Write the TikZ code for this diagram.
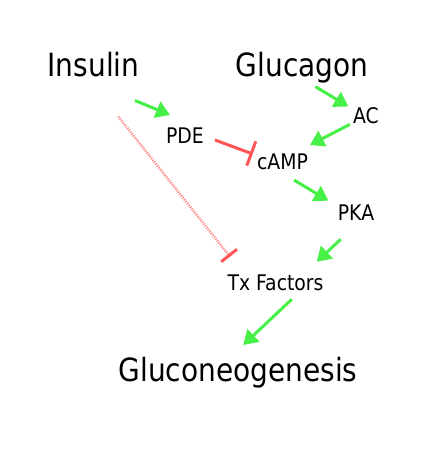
\documentclass[tikz,border=0pt]{standalone}
\usepackage{fontspec}
\usetikzlibrary{arrows.meta}
\newfontfamily\dv[FakeStretch=0.875]{DejaVu Sans}
\definecolor{actgreen}{RGB}{70,240,70}
\definecolor{inhred}{RGB}{255,85,85}
\definecolor{inhpink}{RGB}{255,140,140}
\begin{document}
\begin{tikzpicture}[x=1bp,y=-1bp,
  big/.style={anchor=base,inner sep=0pt,font=\dv\fontsize{32bp}{38bp}\selectfont},
  small/.style={anchor=base,inner sep=0pt,font=\dv\fontsize{21.5bp}{26bp}\selectfont},
  act/.style={draw=actgreen,line width=3bp,-{Triangle[length=14bp,width=17bp]},fill=actgreen},
  inh/.style={draw=inhred,line width=3bp,-{Bar[width=26bp]}},
  inhdot/.style={draw=inhpink,line width=2.5bp,dash pattern=on 1.2bp off 1.2bp,-{Bar[width=20bp,color=inhred,line width=3bp]}}]
\useasboundingbox (0,0) rectangle (436,464);
% nodes
\node[big]   (insulin) at (93.5,76.7)  {Insulin};
\node[big]   (glucagon) at (302,76.7)  {Glucagon};
\node[small] (pde)  at (185,143.3)  {PDE};
\node[small] (ac)   at (366,123.3)  {AC};
\node[small] (camp) at (282.5,169.3) {cAMP};
\node[small] (pka)  at (356,220.7)  {PKA};
\node[small] (tx)   at (275.5,290.7) {Tx Factors};
\node[big]   (gng)  at (238,381.7)  {Gluconeogenesis};
% connector ends
\coordinate (insulin-out) at (135,100.5);
\coordinate (insulin-out2) at (118.3,116.7);
\coordinate (pde-in) at (170,115);
\coordinate (pde-out) at (215,140);
\coordinate (camp-in1) at (252.7,154);
\coordinate (glucagon-out) at (315.5,86.7);
\coordinate (ac-in) at (348.3,106.5);
\coordinate (ac-out) at (350,124.3);
\coordinate (camp-in2) at (310,145);
\coordinate (camp-out) at (294,180);
\coordinate (pka-in) at (328.3,200.7);
\coordinate (pka-out) at (340.7,239.3);
\coordinate (tx-in1) at (316.7,261.7);
\coordinate (tx-in2) at (230,256.7);
\coordinate (tx-out) at (291.7,299.3);
\coordinate (gng-in) at (243.3,345);
% connectors
\draw[act] (insulin-out) -- (pde-in);
\draw[act] (glucagon-out) -- (ac-in);
\draw[act] (ac-out) -- (camp-in2);
\draw[act] (camp-out) -- (pka-in);
\draw[act] (pka-out) -- (tx-in1);
\draw[act] (tx-out) -- (gng-in);
\draw[inh] (pde-out) -- (camp-in1);
\draw[inhdot] (insulin-out2) -- (tx-in2);
\end{tikzpicture}
\end{document}
